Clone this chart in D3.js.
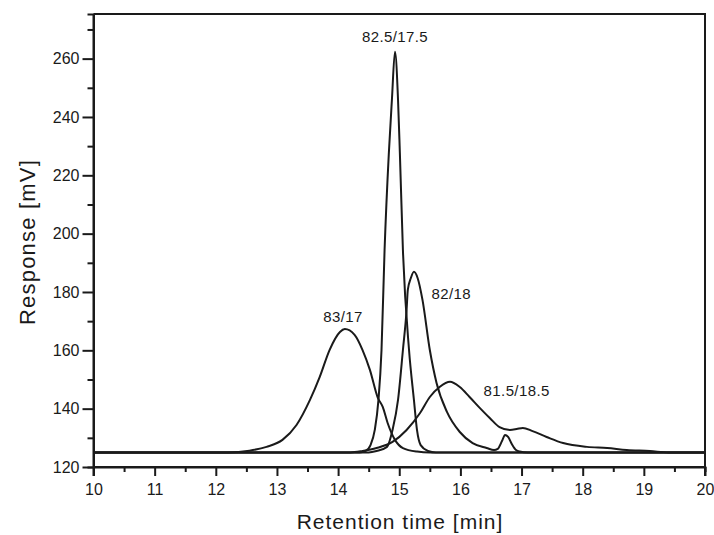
<!DOCTYPE html>
<html>
<head>
<meta charset="utf-8">
<script src="https://cdn.jsdelivr.net/npm/d3@7/dist/d3.min.js"></script>
<style>
  html, body { margin: 0; padding: 0; background: #fff; }
  svg { display: block; }
  text { font-family: "Liberation Sans", Arial, sans-serif; fill: #1a1a1a; }
</style>
</head>
<body>
<svg id="chart" width="714" height="535"></svg>
<script>
// ---- data (retention time [min], response [mV]) ----
const xTicks = [10, 11, 12, 13, 14, 15, 16, 17, 18, 19, 20];
const xMinorTicks = [10.5, 11.5, 12.5, 13.5, 14.5, 15.5, 16.5, 17.5, 18.5, 19.5];
const yTicks = [120, 140, 160, 180, 200, 220, 240, 260];
const yMinorTicks = [130, 150, 170, 190, 210, 230, 250, 270];

const series83_17 = [
  [10, 125], [12.2, 125], [12.55, 125.6], [12.83, 126.9], [13.09, 129.3], [13.32, 134.4],
  [13.54, 143.0], [13.70, 150.9], [13.86, 160.1], [14.03, 166.3], [14.11, 167.3],
  [14.27, 165.3], [14.40, 160.1], [14.52, 153.3], [14.65, 143.7], [14.73, 140.6],
  [14.81, 135.1], [14.93, 129.3], [15.06, 126.5], [15.29, 125.3], [15.5, 125], [20, 125]
];
const series82_5_17_5 = [
  [10, 125], [14.35, 125], [14.45, 125.5], [14.53, 127.5], [14.60, 132.7], [14.66, 143.0],
  [14.71, 160.1], [14.76, 194.4], [14.83, 227.7], [14.88, 245.9], [14.93, 262.4],
  [14.98, 245.9], [15.01, 227.7], [15.06, 194.4], [15.16, 160.1], [15.24, 143.0],
  [15.29, 132.7], [15.35, 127.5], [15.47, 125.5], [15.6, 125], [20, 125]
];
const series82_18 = [
  [10, 125], [14.5, 125], [14.63, 125.5], [14.80, 126.9], [14.89, 132.7], [14.98, 143.0],
  [15.06, 160.1], [15.12, 173.9], [15.14, 180.7], [15.19, 184.8], [15.24, 186.9],
  [15.30, 184.8], [15.38, 177.3], [15.50, 160.1], [15.61, 148.8], [15.78, 138.9],
  [15.99, 132.0], [16.20, 128.2], [16.43, 126.5], [16.55, 125.8], [16.61, 126.2],
  [16.68, 128.9], [16.73, 131.0], [16.78, 130.3], [16.84, 127.9], [16.91, 125.8],
  [16.97, 125.3], [17.1, 125], [20, 125]
];
const series81_5_18_5 = [
  [10, 125], [14.2, 125], [14.40, 125.5], [14.63, 126.5], [14.89, 128.6], [15.12, 132.7],
  [15.34, 138.5], [15.50, 144.0], [15.66, 147.4], [15.83, 149.2], [15.99, 147.4],
  [16.15, 144.0], [16.32, 140.2], [16.48, 136.8], [16.64, 133.7], [16.81, 132.7],
  [16.92, 133.0], [17.02, 133.4], [17.18, 132.3], [17.41, 130.3], [17.68, 128.2],
  [18.07, 126.9], [18.40, 126.5], [18.72, 125.8], [19.10, 125.5], [19.4, 125], [20, 125]
];
const seriesList = [series83_17, series82_5_17_5, series82_18, series81_5_18_5];

const peakLabels = ["83/17", "82.5/17.5", "82/18", "81.5/18.5"];
const labelAnchors = [[14.08, 169.7], [14.93, 265.7], [15.85, 177.6], [16.92, 144.2]];

// ---- layout ----
const svg = d3.select("#chart");
const x = d3.scaleLinear().domain([10, 20]).range([93.5, 705]);
const y = d3.scaleLinear().domain([120, 275.3]).range([467, 14]);
const ink = "#1a1a1a";

// frame (top and right)
svg.append("path")
  .attr("d", `M${x(10)},${y(275.3)}H${x(20)}V${y(120) + 9}`)
  .attr("fill", "none").attr("stroke", ink).attr("stroke-width", 2);

// bottom axis: major and minor ticks
const gx = svg.append("g").attr("transform", `translate(0,${y(120)})`)
  .call(d3.axisBottom(x).tickValues(xTicks).tickSize(9).tickPadding(8).tickFormat(d3.format("d")));
const gxm = svg.append("g").attr("transform", `translate(0,${y(120)})`)
  .call(d3.axisBottom(x).tickValues(xMinorTicks).tickSize(5).tickFormat(""));

// left axis
const gy = svg.append("g").attr("transform", `translate(${x(10)},0)`)
  .call(d3.axisLeft(y).tickValues(yTicks).tickSize(11).tickPadding(3).tickFormat(d3.format("d")));
const gym = svg.append("g").attr("transform", `translate(${x(10)},0)`)
  .call(d3.axisLeft(y).tickValues(yMinorTicks).tickSize(6).tickFormat(""));

[gx, gxm, gy, gym].forEach(g => {
  g.select(".domain").attr("stroke", ink).attr("stroke-width", 2);
  g.selectAll(".tick line").attr("stroke", ink).attr("stroke-width", 2);
  g.selectAll(".tick text").attr("fill", ink).style("font-size", "16px")
    .style("font-family", "'Liberation Sans', Arial, sans-serif");
});
gy.select(".domain").attr("d", `M0,${y(275.3)}V${y(120) + 9}`);
gx.select(".domain").attr("d", `M${x(10)},0H${x(20)}`);

// curves
const line = d3.line().x(d => x(d[0])).y(d => y(d[1])).curve(d3.curveMonotoneX);
svg.append("g").selectAll("path").data(seriesList).join("path")
  .attr("d", line)
  .attr("fill", "none").attr("stroke", ink).attr("stroke-width", 2)
  .attr("stroke-linejoin", "round");

// peak labels
svg.append("g").selectAll("text").data(peakLabels).join("text")
  .attr("x", (d, i) => x(labelAnchors[i][0]))
  .attr("y", (d, i) => y(labelAnchors[i][1]))
  .attr("text-anchor", "middle")
  .style("font-size", "15px").style("letter-spacing", "0.4px")
  .text(d => d);

// axis titles
svg.append("text")
  .attr("x", 400).attr("y", 529)
  .attr("text-anchor", "middle")
  .style("font-size", "21px").style("letter-spacing", "1px")
  .text("Retention time [min]");
svg.append("text")
  .attr("transform", "translate(35,242) rotate(-90)")
  .attr("text-anchor", "middle")
  .style("font-size", "22px").style("letter-spacing", "1.2px")
  .text("Response [mV]");
</script>
</body>
</html>
